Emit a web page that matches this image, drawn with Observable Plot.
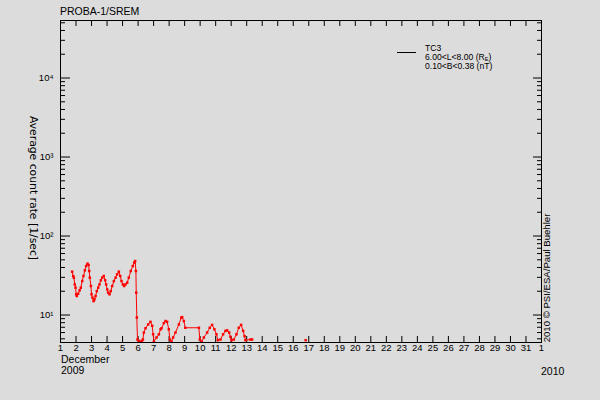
<!DOCTYPE html>
<html><head><meta charset="utf-8">
<script src="https://cdn.jsdelivr.net/npm/d3@7"></script>
<script src="https://cdn.jsdelivr.net/npm/@observablehq/plot@0.6"></script>
<style>
html,body{margin:0;padding:0;background:#dcdcdc;}
#wrap{position:relative;width:600px;height:400px;background:#dcdcdc;overflow:hidden;font-family:"Liberation Sans",Arial,sans-serif;color:#000;}
#wrap svg{position:absolute;left:0;top:0;}
.t{position:absolute;white-space:nowrap;line-height:1;}
.c{transform:translate(-50%,-50%) rotate(90deg);}
.cc{transform:translate(-50%,-50%) rotate(-90deg);}
sub{font-size:65%;vertical-align:-1px;line-height:0;}
</style></head><body><div id="wrap"></div>
<script>
// ---- data ----
const dayTicks = [1,2,3,4,5,6,7,8,9,10,11,12,13,14,15,16,17,18,19,20,21,22,23,24,25,26,27,28,29,30,31,32];
const dayLabels = ["1","2","3","4","5","6","7","8","9","10","11","12","13","14","15","16","17","18","19","20","21","22","23","24","25","26","27","28","29","30","31","1"];
const majorTicks = [10, 100, 1000, 10000];
const majorLabels = ["10\u00b9", "10\u00b2", "10\u00b3", "10\u2074"];
const minorTicks = [5,6,7,8,9,20,30,40,50,60,70,80,90,200,300,400,500,600,700,800,900,
  2000,3000,4000,5000,6000,7000,8000,9000,20000,30000,40000,50000];

// day of December 2009 (fractional) and average count rate [1/sec], TC3
const days = [1.75,1.82,1.86,1.92,1.97,2.01,2.05,2.14,2.23,2.31,2.40,2.48,2.57,2.65,2.74,2.81,2.85,2.89,2.96,3.00,
  3.06,3.13,3.19,3.26,3.34,3.43,3.51,3.60,3.69,3.79,3.88,3.94,4.01,4.07,4.16,4.24,4.33,4.44,4.55,4.65,
  4.76,4.85,4.93,5.02,5.10,5.19,5.30,5.40,5.53,5.66,5.75,5.81,5.86,5.88,5.92,5.96,
  6.05,6.15,6.25,6.31,6.37,6.48,6.65,6.80,6.91,6.97,7.02,7.19,7.34,7.45,7.51,7.66,7.77,7.87,7.98,8.05,
  8.15,8.26,8.41,8.63,8.78,8.84,8.95,9.04,9.92,9.98,10.10,10.24,10.45,10.62,10.77,10.92,11.05,11.14,
  11.31,11.48,11.63,11.74,11.87,11.95,12.02,12.17,12.34,12.49,12.64,12.77,12.86,12.92,13.24,13.35];
const rates = [35.4,31.2,29.7,24.4,22.2,18.3,17.4,18.6,20.5,22.2,26.9,31.2,36.8,41.7,44.7,43.0,36.1,29.7,23.3,18.3,
  16.6,15.0,15.8,17.4,20.1,22.2,24.4,27.5,29.7,31.2,27.5,24.4,21.1,19.2,18.3,20.1,23.3,26.9,29.7,32.7,
  35.4,31.2,26.9,24.4,23.3,24.4,25.7,29.7,36.1,41.7,46.0,48.2,36.1,19.2,9.3,4.9,
  4.7,4.6,4.7,4.9,6.0,6.8,7.6,8.2,7.3,5.7,4.6,5.2,5.7,6.6,6.8,7.9,8.4,8.2,6.6,4.9,
  4.6,5.2,6.0,7.6,9.25,9.4,8.4,6.9,6.9,4.9,4.6,5.2,6.0,6.9,7.5,6.6,5.7,4.8,
  4.9,5.7,6.3,6.4,6.0,5.3,4.8,4.9,5.7,6.9,7.5,6.3,5.4,4.8,4.9,4.9];
const strayDays = [16.8];
const strayRates = [4.8];

const data = days.map((d, i) => ({day: d, rate: rates[i]}));
const stray = strayDays.map((d, i) => ({day: d, rate: strayRates[i]}));

const red = "#ff0000";
const chart = Plot.plot({
  width: 600, height: 400,
  marginLeft: 60, marginRight: 59, marginTop: 20, marginBottom: 58,
  style: {background: "transparent", fontFamily: "'Liberation Sans', Arial, sans-serif", fontSize: "9.5px", color: "#000"},
  x: {domain: [1, 32], label: null},
  y: {type: "log", domain: [4.49, 53460], label: null},
  marks: [
    Plot.frame({stroke: "#000"}),
    Plot.axisX(dayTicks, {anchor: "bottom", tickSize: -6, tickPadding: 8, tickFormat: d => dayLabels[d - 1], label: null}),
    Plot.axisX(dayTicks, {anchor: "top", tickSize: -5, tickFormat: () => "", label: null}),
    Plot.axisY(majorTicks, {anchor: "left", tickSize: -10, tickPadding: 17, tickFormat: d => majorLabels[majorTicks.indexOf(d)], label: null}),
    Plot.axisY(minorTicks, {anchor: "left", tickSize: -5, tickFormat: () => "", label: null}),
    Plot.axisY(majorTicks, {anchor: "right", tickSize: -9, tickFormat: () => "", label: null}),
    Plot.axisY(minorTicks, {anchor: "right", tickSize: -5, tickFormat: () => "", label: null}),
    Plot.line(data, {x: "day", y: "rate", stroke: red, strokeWidth: 1, clip: true}),
    Plot.dot(data.concat(stray), {x: "day", y: "rate", symbol: "square", r: 1.4, fill: red, stroke: "none", clip: true})
  ]
});
const wrap = document.getElementById("wrap");
wrap.appendChild(chart);

function addText(html, css, cls) {
  const d = document.createElement("div");
  d.className = "t" + (cls ? " " + cls : "");
  d.innerHTML = html;
  Object.assign(d.style, css);
  wrap.appendChild(d);
}
addText("PROBA-1/SREM", {left: "60px", top: "5.5px", fontSize: "10.5px"});
addText("Average count rate [1/sec]", {left: "32.5px", top: "187.5px", fontSize: "10.8px", fontFamily: "'DejaVu Sans', sans-serif"}, "c");
addText("2010 \u00a9 PSI/ESA/Paul Buehler", {left: "546.5px", top: "277.5px", fontSize: "9.6px"}, "cc");
addText("December", {left: "61px", top: "354.3px", fontSize: "10.5px"});
addText("2009", {left: "61px", top: "365.3px", fontSize: "10.5px"});
addText("2010", {left: "541px", top: "365.5px", fontSize: "10.5px"});
// legend
const ln = document.createElement("div");
Object.assign(ln.style, {position: "absolute", left: "397px", top: "52px", width: "19px", height: "0", borderTop: "1px solid #000"});
wrap.appendChild(ln);
addText("TC3", {left: "425px", top: "44px", fontSize: "8.6px"});
addText("6.00&lt;L&lt;8.00 (R<sub>E</sub>)", {left: "425px", top: "53px", fontSize: "8.6px"});
addText("0.10&lt;B&lt;0.38 (nT)", {left: "425px", top: "62px", fontSize: "8.6px"});
</script></body></html>
